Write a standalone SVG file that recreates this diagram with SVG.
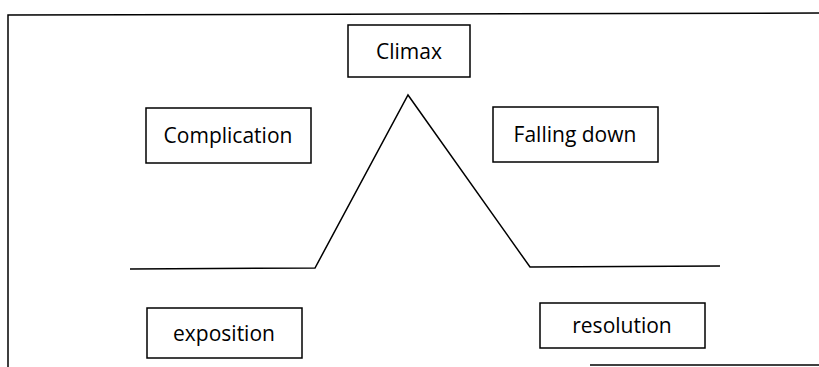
<svg xmlns="http://www.w3.org/2000/svg" width="819" height="367" viewBox="0 0 819 367">
<style>
.box{fill:#fff;stroke:#000;stroke-width:1.5}
.lbl{font-family:"Open Sans","Liberation Sans",sans-serif;font-size:21px;fill:#000;text-anchor:middle;dominant-baseline:central}
.ln{fill:none;stroke:#000;stroke-width:1.5}
</style>
<rect width="819" height="367" fill="#fff"/>
<g id="frame">
<polyline class="ln" points="8,367 8,15 819,13"/>
<line class="ln" x1="590" y1="365" x2="819" y2="365"/>
</g>
<g id="connectors">
<polyline class="ln" points="130,269 315,268 408,95 530,267 720,266"/>
</g>
<g id="climax"><rect class="box" x="348" y="25" width="122" height="52"/><text class="lbl" x="409" y="51">Climax</text></g>
<g id="complication"><rect class="box" x="146" y="108" width="165" height="55"/><text class="lbl" x="228" y="135">Complication</text></g>
<g id="falling"><rect class="box" x="493" y="107" width="165" height="55"/><text class="lbl" x="575" y="134">Falling down</text></g>
<g id="exposition"><rect class="box" x="147" y="308" width="155" height="50"/><text class="lbl" x="224" y="333">exposition</text></g>
<g id="resolution"><rect class="box" x="540" y="303" width="165" height="45"/><text class="lbl" x="622" y="325">resolution</text></g>
</svg>
